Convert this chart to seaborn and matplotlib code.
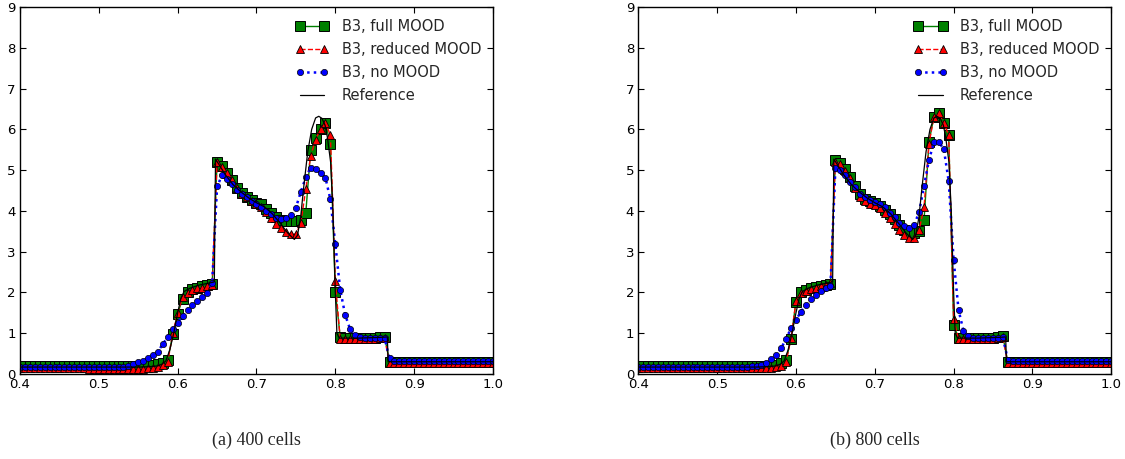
import numpy as np
import matplotlib
matplotlib.use("Agg")
import matplotlib.pyplot as plt
import seaborn as sns

# cell positions where markers are drawn
x_cells = [0.4, 0.40625, 0.4125, 0.41875, 0.425, 0.43125, 0.4375, 0.44375,
           0.45, 0.45625, 0.4625, 0.46875, 0.475, 0.48125, 0.4875, 0.49375,
           0.5, 0.50625, 0.5125, 0.51875, 0.525, 0.53125, 0.5375, 0.54375,
           0.55, 0.55625, 0.5625, 0.56875, 0.575, 0.58125, 0.5875, 0.59375,
           0.6, 0.60625, 0.6125, 0.61875, 0.625, 0.63125, 0.6375, 0.64375,
           0.65, 0.65625, 0.6625, 0.66875, 0.675, 0.68125, 0.6875, 0.69375,
           0.7, 0.70625, 0.7125, 0.71875, 0.725, 0.73125, 0.7375, 0.74375,
           0.75, 0.75625, 0.7625, 0.76875, 0.775, 0.78125, 0.7875, 0.79375,
           0.8, 0.80625, 0.8125, 0.81875, 0.825, 0.83125, 0.8375, 0.84375,
           0.85, 0.85625, 0.8625, 0.86875, 0.875, 0.88125, 0.8875, 0.89375,
           0.9, 0.90625, 0.9125, 0.91875, 0.925, 0.93125, 0.9375, 0.94375,
           0.95, 0.95625, 0.9625, 0.96875, 0.975, 0.98125, 0.9875, 0.99375,
           1.0]

# 400 cells
full_400 = [0.19, 0.19, 0.19, 0.19, 0.19, 0.19, 0.19, 0.19,
            0.19, 0.19, 0.19, 0.19, 0.19, 0.19, 0.19, 0.19,
            0.19, 0.19, 0.19, 0.19, 0.19, 0.19, 0.2, 0.2,
            0.2, 0.2, 0.21, 0.22, 0.24, 0.28, 0.35, 0.97,
            1.48, 1.84, 2.02, 2.08, 2.12, 2.16, 2.18, 2.2,
            5.2, 5.1, 4.93, 4.75, 4.55, 4.45, 4.35, 4.27,
            4.2, 4.18, 4.05, 3.95, 3.85, 3.78, 3.75, 3.76,
            3.76, 3.78, 3.94, 5.5, 5.78, 6.02, 6.16, 5.64,
            2.02, 0.9, 0.88, 0.88, 0.88, 0.88, 0.88, 0.88,
            0.89, 0.9, 0.91, 0.3, 0.3, 0.3, 0.3, 0.3,
            0.3, 0.3, 0.3, 0.3, 0.3, 0.3, 0.3, 0.3,
            0.3, 0.3, 0.3, 0.3, 0.3, 0.3, 0.3, 0.3,
            0.3]
reduced_400 = [0.15, 0.15, 0.15, 0.15, 0.15, 0.15, 0.15, 0.15,
               0.15, 0.15, 0.15, 0.15, 0.14, 0.14, 0.13, 0.13,
               0.12, 0.12, 0.12, 0.12, 0.12, 0.12, 0.12, 0.12,
               0.12, 0.13, 0.14, 0.15, 0.17, 0.22, 0.3, 1.0,
               1.5, 1.88, 1.98, 2.05, 2.1, 2.12, 2.15, 2.18,
               5.2, 5.08, 4.93, 4.75, 4.55, 4.42, 4.33, 4.25,
               4.18, 4.1, 3.98, 3.82, 3.67, 3.57, 3.48, 3.43,
               3.43, 3.71, 4.53, 5.35, 5.75, 6.02, 6.16, 5.86,
               2.27, 0.85, 0.85, 0.85, 0.85, 0.85, 0.86, 0.86,
               0.87, 0.88, 0.89, 0.26, 0.28, 0.28, 0.28, 0.28,
               0.28, 0.28, 0.28, 0.28, 0.28, 0.28, 0.28, 0.28,
               0.28, 0.28, 0.28, 0.28, 0.28, 0.28, 0.28, 0.28,
               0.28]
none_400 = [0.16, 0.16, 0.16, 0.16, 0.16, 0.16, 0.16, 0.16,
            0.16, 0.16, 0.16, 0.16, 0.16, 0.16, 0.16, 0.16,
            0.16, 0.16, 0.16, 0.17, 0.17, 0.18, 0.2, 0.24,
            0.29, 0.33, 0.38, 0.46, 0.55, 0.74, 0.9, 1.1,
            1.26, 1.42, 1.56, 1.69, 1.8, 1.9, 1.99, 2.24,
            4.6, 4.87, 4.77, 4.65, 4.52, 4.42, 4.33, 4.25,
            4.18, 4.1, 4.0, 3.92, 3.83, 3.79, 3.82, 3.9,
            4.08, 4.47, 4.82, 5.06, 5.02, 4.93, 4.81, 4.28,
            3.18, 2.06, 1.45, 1.1, 0.95, 0.9, 0.89, 0.88,
            0.88, 0.88, 0.88, 0.38, 0.31, 0.31, 0.31, 0.31,
            0.31, 0.31, 0.31, 0.31, 0.31, 0.31, 0.31, 0.31,
            0.31, 0.31, 0.31, 0.31, 0.31, 0.31, 0.31, 0.31,
            0.31]

# 800 cells
full_800 = [0.19, 0.19, 0.19, 0.19, 0.19, 0.19, 0.19, 0.19,
            0.19, 0.19, 0.19, 0.19, 0.19, 0.19, 0.19, 0.19,
            0.19, 0.19, 0.19, 0.19, 0.19, 0.19, 0.19, 0.19,
            0.19, 0.19, 0.2, 0.2, 0.22, 0.26, 0.34, 0.87,
            1.77, 2.02, 2.07, 2.1, 2.13, 2.16, 2.18, 2.2,
            5.25, 5.18, 5.02, 4.82, 4.62, 4.42, 4.3, 4.24,
            4.2, 4.12, 4.02, 3.92, 3.8, 3.66, 3.54, 3.47,
            3.46, 3.5, 3.77, 5.69, 6.31, 6.41, 6.16, 5.86,
            1.2, 0.88, 0.88, 0.88, 0.88, 0.88, 0.88, 0.88,
            0.89, 0.91, 0.92, 0.3, 0.3, 0.3, 0.3, 0.3,
            0.3, 0.3, 0.3, 0.3, 0.3, 0.3, 0.3, 0.3,
            0.3, 0.3, 0.3, 0.3, 0.3, 0.3, 0.3, 0.3,
            0.3]
reduced_800 = [0.15, 0.15, 0.15, 0.15, 0.15, 0.15, 0.15, 0.15,
               0.15, 0.15, 0.15, 0.15, 0.15, 0.15, 0.15, 0.15,
               0.15, 0.15, 0.15, 0.15, 0.15, 0.15, 0.14, 0.14,
               0.14, 0.14, 0.14, 0.15, 0.16, 0.2, 0.3, 0.88,
               1.79, 1.98, 2.03, 2.08, 2.12, 2.16, 2.19, 2.22,
               5.2, 5.16, 4.98, 4.8, 4.55, 4.35, 4.24, 4.18,
               4.14, 4.06, 3.94, 3.82, 3.69, 3.53, 3.4, 3.33,
               3.33, 3.53, 4.1, 5.65, 6.3, 6.39, 6.16, 5.86,
               1.36, 0.85, 0.86, 0.86, 0.86, 0.86, 0.86, 0.86,
               0.87, 0.88, 0.9, 0.26, 0.28, 0.28, 0.28, 0.28,
               0.28, 0.28, 0.28, 0.28, 0.28, 0.28, 0.28, 0.28,
               0.28, 0.28, 0.28, 0.28, 0.28, 0.28, 0.28, 0.28,
               0.28]
none_800 = [0.16, 0.16, 0.16, 0.16, 0.16, 0.16, 0.16, 0.16,
            0.16, 0.16, 0.16, 0.16, 0.16, 0.16, 0.16, 0.16,
            0.16, 0.16, 0.16, 0.16, 0.17, 0.17, 0.18, 0.19,
            0.2, 0.22, 0.28, 0.36, 0.47, 0.63, 0.87, 1.12,
            1.32, 1.53, 1.69, 1.83, 1.94, 2.03, 2.1, 2.17,
            5.04, 5.0, 4.88, 4.72, 4.58, 4.42, 4.34, 4.27,
            4.23, 4.17, 4.09, 3.96, 3.84, 3.71, 3.62, 3.59,
            3.66, 3.97, 4.62, 5.25, 5.68, 5.68, 5.52, 4.73,
            2.8, 1.57, 1.06, 0.92, 0.89, 0.88, 0.88, 0.88,
            0.88, 0.89, 0.9, 0.35, 0.31, 0.31, 0.31, 0.31,
            0.31, 0.31, 0.31, 0.31, 0.31, 0.31, 0.31, 0.31,
            0.31, 0.31, 0.31, 0.31, 0.31, 0.31, 0.31, 0.31,
            0.31]

# reference solution
ref_x = [0.4, 0.5, 0.55, 0.565, 0.575, 0.58, 0.585, 0.59, 0.595, 0.6,
         0.604, 0.608, 0.615, 0.627, 0.64, 0.6465, 0.648, 0.652, 0.66, 0.67,
         0.68, 0.69, 0.7, 0.71, 0.72, 0.73, 0.74, 0.748, 0.752, 0.756,
         0.76, 0.765, 0.77, 0.775, 0.779, 0.783, 0.787, 0.79, 0.794, 0.797,
         0.8, 0.802, 0.805, 0.83, 0.86, 0.866, 0.867, 1.0]
ref_y = [0.17, 0.17, 0.17, 0.18, 0.2, 0.24, 0.32, 0.59, 1.0, 1.5,
         1.85, 2.02, 2.1, 2.18, 2.23, 2.26, 5.27, 5.15, 4.9, 4.65,
         4.47, 4.32, 4.2, 4.1, 3.93, 3.7, 3.45, 3.3, 3.4, 3.85,
         4.6, 5.45, 6.0, 6.28, 6.32, 6.27, 6.1, 5.8, 5.2, 4.0,
         2.0, 1.0, 0.88, 0.88, 0.9, 0.91, 0.3, 0.3]

panels = [("(a) 400 cells", full_400, reduced_400, none_400),
          ("(b) 800 cells", full_800, reduced_800, none_800)]

sns.set_style("ticks")
plt.rcParams["font.family"] = ["DejaVu Sans"]
plt.rcParams["xtick.direction"] = "in"
plt.rcParams["ytick.direction"] = "in"
plt.rcParams["xtick.top"] = True
plt.rcParams["ytick.right"] = True
plt.rcParams["xtick.major.size"] = 4
plt.rcParams["ytick.major.size"] = 4
plt.rcParams["axes.linewidth"] = 1.0
plt.rcParams["axes.edgecolor"] = "black"

fig = plt.figure(figsize=(11.25, 4.59), dpi=100)
lefts = [0.0178, 0.5674]
for (caption, full, reduced, none), left in zip(panels, lefts):
    ax = fig.add_axes([left, 0.1852, 0.4204, 0.7995])
    sns.lineplot(x=x_cells, y=full, ax=ax, color="green", lw=1, marker="s",
                 markersize=7, markeredgecolor="black", markeredgewidth=0.7,
                 errorbar=None, label="B3, full MOOD")
    sns.lineplot(x=x_cells, y=reduced, ax=ax, color="red", lw=1, linestyle="--",
                 marker="^", markersize=5.5, markeredgecolor="black",
                 markeredgewidth=0.6, errorbar=None, label="B3, reduced MOOD")
    sns.lineplot(x=x_cells, y=none, ax=ax, color="blue", lw=1.8, linestyle=":",
                 marker="o", markersize=4.5, markeredgecolor="black",
                 markeredgewidth=0.5, errorbar=None, label="B3, no MOOD")
    sns.lineplot(x=ref_x, y=ref_y, ax=ax, color="black", lw=0.9,
                 errorbar=None, label="Reference")
    ax.set_xlim(0.4, 1.0)
    ax.set_ylim(0, 9)
    ax.set_xticks([0.4, 0.5, 0.6, 0.7, 0.8, 0.9, 1.0])
    ax.set_yticks(range(10))
    ax.set_xlabel("")
    ax.set_ylabel("")
    ax.tick_params(labelsize=9.5, pad=3, colors="black")
    ax.legend(loc="upper right", frameon=False, numpoints=2, fontsize=10.5,
              handlelength=2.3, handletextpad=0.9, labelspacing=0.55,
              borderaxespad=0.4)
    fig.text(left + 0.2102, 0.04, caption, ha="center", va="center",
             fontsize=13, family=["Liberation Serif"])

fig.savefig("out.png", dpi=100)
